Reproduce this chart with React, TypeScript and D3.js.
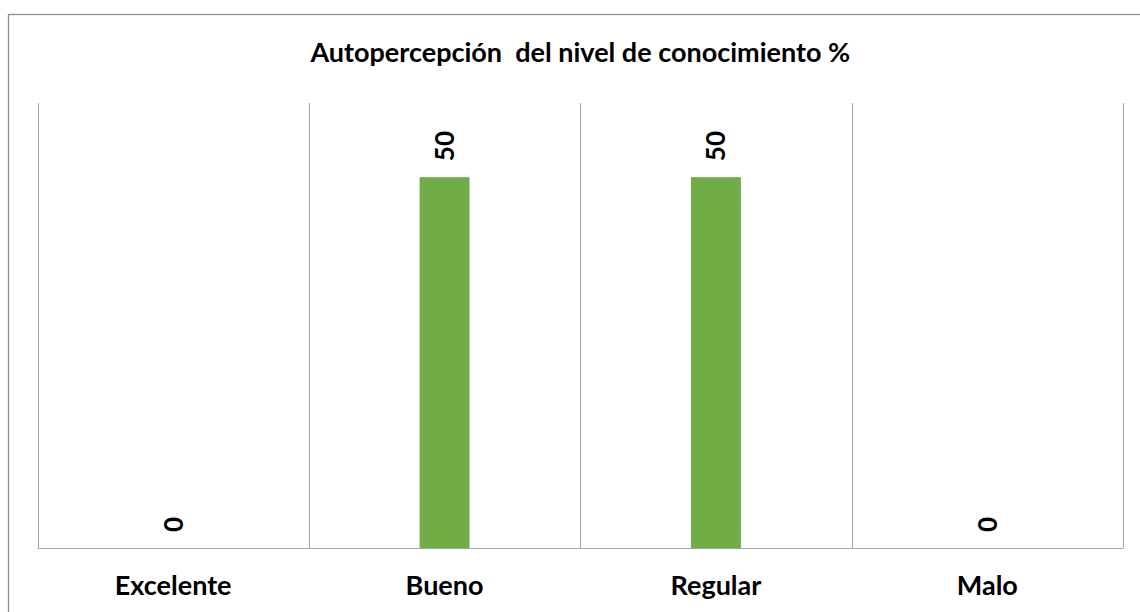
import React from "react";
import * as d3 from "d3";

const categories = ["Excelente", "Bueno", "Regular", "Malo"];
const values = [0, 50, 50, 0];
const chartTitle = "Autopercepción  del nivel de conocimiento %";
const yDomain = [0, 60];

const W = 1140;
const H = 612;
const plot = { left: 37.5, right: 1123, top: 103, bottom: 548 };
const FONT = "Lato, 'Open Sans', sans-serif";

export default function App() {
  const x = d3
    .scaleBand<string>()
    .domain(categories)
    .range([plot.left, plot.right])
    .padding(0);
  const y = d3.scaleLinear().domain(yDomain).range([plot.bottom, plot.top]);
  const barW = x.bandwidth() * 0.184;

  const boundaries = categories.map((c) => x(c) as number).concat([plot.right]);

  return (
    <svg
      width={W}
      height={H}
      style={{ position: "absolute", left: 0, top: 0, display: "block" }}
      fontFamily={FONT}
    >
      <rect x={0} y={0} width={W} height={H} fill="#ffffff" />
      {/* chart frame, running off the right and bottom edges */}
      <rect
        x={8.5}
        y={14.5}
        width={W + 20}
        height={H + 20}
        fill="none"
        stroke="#8e8e8e"
        strokeWidth={1.3}
      />
      <text
        x={(plot.left + plot.right) / 2}
        y={62}
        textAnchor="middle"
        fontSize={27}
        fontWeight={700}
        fill="#000"
        style={{ whiteSpace: "pre" }}
      >
        {chartTitle}
      </text>

      {/* category gridlines */}
      {boundaries.map((bx, i) => (
        <line
          key={"g" + i}
          x1={Math.round(bx) + 0.5}
          x2={Math.round(bx) + 0.5}
          y1={plot.top}
          y2={plot.bottom}
          stroke="#a6a6a6"
          strokeWidth={1}
        />
      ))}

      {/* bars */}
      {categories.map((c, i) => {
        const cx = (x(c) as number) + x.bandwidth() / 2;
        return (
          <rect
            key={"b" + c}
            x={cx - barW / 2}
            y={y(values[i])}
            width={barW}
            height={y(0) - y(values[i])}
            fill="#70ad47"
          />
        );
      })}

      {/* category axis line */}
      <line
        x1={plot.left}
        x2={plot.right + 0.5}
        y1={plot.bottom + 0.5}
        y2={plot.bottom + 0.5}
        stroke="#a6a6a6"
        strokeWidth={1}
      />

      {/* rotated value labels */}
      {categories.map((c, i) => {
        const cx = (x(c) as number) + x.bandwidth() / 2;
        const ty = y(values[i]) - 16;
        return (
          <text
            key={"v" + c}
            transform={`translate(${cx},${ty}) rotate(-90)`}
            textAnchor="start"
            dy="0.36em"
            fontSize={26}
            fontWeight={700}
            fill="#000"
          >
            {values[i]}
          </text>
        );
      })}

      {/* category labels */}
      {categories.map((c) => (
        <text
          key={"c" + c}
          x={(x(c) as number) + x.bandwidth() / 2}
          y={595}
          textAnchor="middle"
          fontSize={27}
          fontWeight={700}
          fill="#000"
        >
          {c}
        </text>
      ))}
    </svg>
  );
}
